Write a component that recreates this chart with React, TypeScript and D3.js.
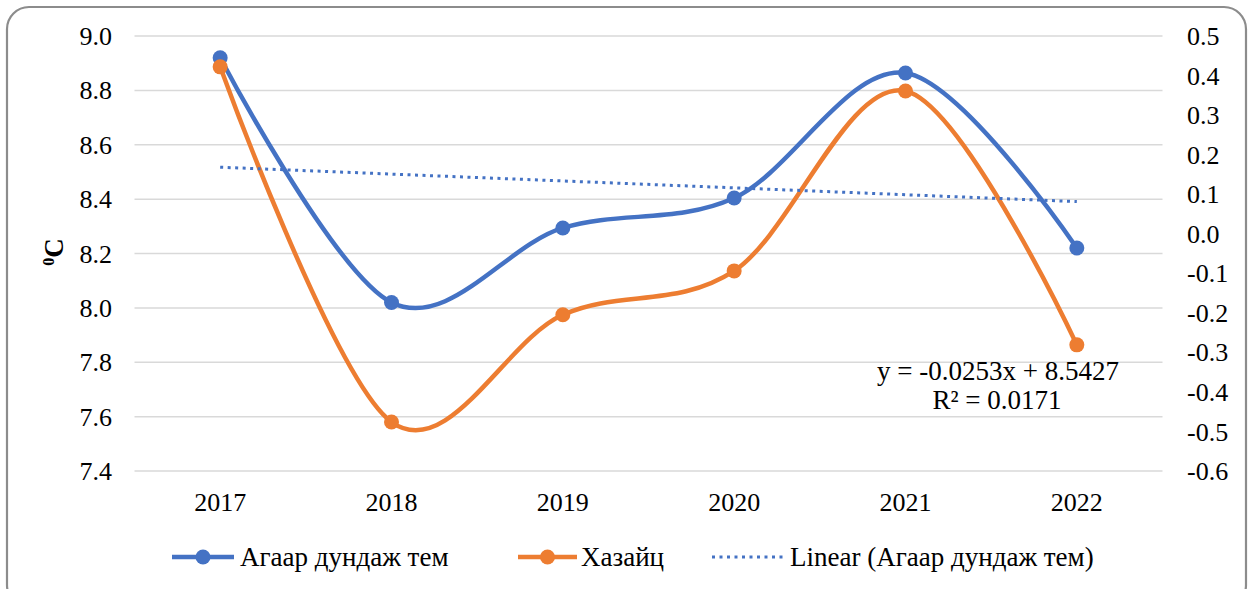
import React from "react";
import * as d3 from "d3";

const years = ["2017", "2018", "2019", "2020", "2021", "2022"];
const airTemp = [8.92, 8.02, 8.294, 8.404, 8.864, 8.22];
const deviation = [0.422, -0.476, -0.205, -0.094, 0.361, -0.281];
const leftTicks = [7.4, 7.6, 7.8, 8.0, 8.2, 8.4, 8.6, 8.8, 9.0];
const rightTicks = [-0.6, -0.5, -0.4, -0.3, -0.2, -0.1, 0.0, 0.1, 0.2, 0.3, 0.4, 0.5];
const trendSlope = -0.0253;
const trendIntercept = 8.5427;
const legendNames = ["Агаар дундаж тем", "Хазайц", "Linear (Агаар дундаж тем)"];

const W = 1251;
const H = 589;
const BLUE = "#4472C4";
const ORANGE = "#ED7D31";
const FONT = "Liberation Serif, Times New Roman, serif";

export default function App() {
  const x = d3.scaleBand<string>().domain(years).range([134.5, 1162.5]);
  const cx = (d: string) => (x(d) as number) + x.bandwidth() / 2;
  const yL = d3.scaleLinear().domain([7.4, 9.0]).range([471, 36]);
  const yR = d3.scaleLinear().domain([-0.6, 0.5]).range([471, 36]);

  const curve = d3.curveCardinal.tension(0);
  const blueLine = d3.line<number>().x((_, i) => cx(years[i])).y((d) => yL(d)).curve(curve);
  const orangeLine = d3.line<number>().x((_, i) => cx(years[i])).y((d) => yR(d)).curve(curve);

  const t0 = trendIntercept + trendSlope * 1;
  const t1 = trendIntercept + trendSlope * years.length;

  const legendItems = [
    { name: legendNames[0], color: BLUE, x0: 172, x1: 234, tx: 240, marker: true, dotted: false },
    { name: legendNames[1], color: ORANGE, x0: 518, x1: 577, tx: 581, marker: true, dotted: false },
    { name: legendNames[2], color: BLUE, x0: 712, x1: 786, tx: 790, marker: false, dotted: true },
  ];

  const txt = { fontFamily: FONT, fill: "#000" };

  return (
    <svg width={W} height={H} style={{ position: "absolute", left: 0, top: 0, background: "#fff" }}>
      <rect x={7} y={7} width={1239} height={600} rx={22} fill="#fff" stroke="#8c8c8c" strokeWidth={2.2} />

      {/* grid */}
      {leftTicks.map((t) => (
        <line key={t} x1={134.5} x2={1162.5} y1={yL(t)} y2={yL(t)} stroke="#d9d9d9" strokeWidth={1.5} />
      ))}

      {/* left axis labels */}
      {leftTicks.map((t) => (
        <text key={t} x={112} y={yL(t)} dy="0.35em" textAnchor="end" fontSize={26} style={txt}>
          {t.toFixed(1)}
        </text>
      ))}
      {/* right axis labels */}
      {rightTicks.map((t) => (
        <text key={t} x={1187} y={yR(t)} dy="0.35em" textAnchor="start" fontSize={26} style={txt}>
          {t.toFixed(1)}
        </text>
      ))}
      {/* x labels */}
      {years.map((yv) => (
        <text key={yv} x={cx(yv)} y={511} textAnchor="middle" fontSize={26} style={txt}>
          {yv}
        </text>
      ))}

      {/* y title */}
      <text transform="translate(63,252) rotate(-90)" textAnchor="middle" fontSize={27} fontWeight="bold" style={txt}>
        <tspan fontSize={16} dy={-9}>0</tspan>
        <tspan dy={9}>C</tspan>
      </text>

      {/* blue series */}
      <path d={blueLine(airTemp) as string} fill="none" stroke={BLUE} strokeWidth={4.5} strokeLinecap="round" />
      {airTemp.map((v, i) => (
        <circle key={i} cx={cx(years[i])} cy={yL(v)} r={7.5} fill={BLUE} />
      ))}

      {/* orange series */}
      <path d={orangeLine(deviation) as string} fill="none" stroke={ORANGE} strokeWidth={4.5} strokeLinecap="round" />
      {deviation.map((v, i) => (
        <circle key={i} cx={cx(years[i])} cy={yR(v)} r={7.5} fill={ORANGE} />
      ))}

      {/* trend line */}
      <line
        x1={cx(years[0])}
        x2={cx(years[years.length - 1])}
        y1={yL(t0)}
        y2={yL(t1)}
        stroke={BLUE}
        strokeWidth={3}
        strokeDasharray="3 4.5"
      />

      {/* equation */}
      <text x={998} y={380} textAnchor="middle" fontSize={27} style={txt}>
        y = -0.0253x + 8.5427
      </text>
      <text x={997} y={409} textAnchor="middle" fontSize={27} style={txt}>
        R² = 0.0171
      </text>

      {/* legend */}
      {legendItems.map((it) => (
        <g key={it.name}>
          <line
            x1={it.x0}
            x2={it.x1}
            y1={557}
            y2={557}
            stroke={it.color}
            strokeWidth={it.dotted ? 3 : 4.5}
            strokeDasharray={it.dotted ? "3 4.5" : undefined}
          />
          {it.marker && <circle cx={(it.x0 + it.x1) / 2} cy={557} r={7.5} fill={it.color} />}
          <text x={it.tx} y={557} dy="0.35em" fontSize={27} style={txt}>
            {it.name}
          </text>
        </g>
      ))}
    </svg>
  );
}
